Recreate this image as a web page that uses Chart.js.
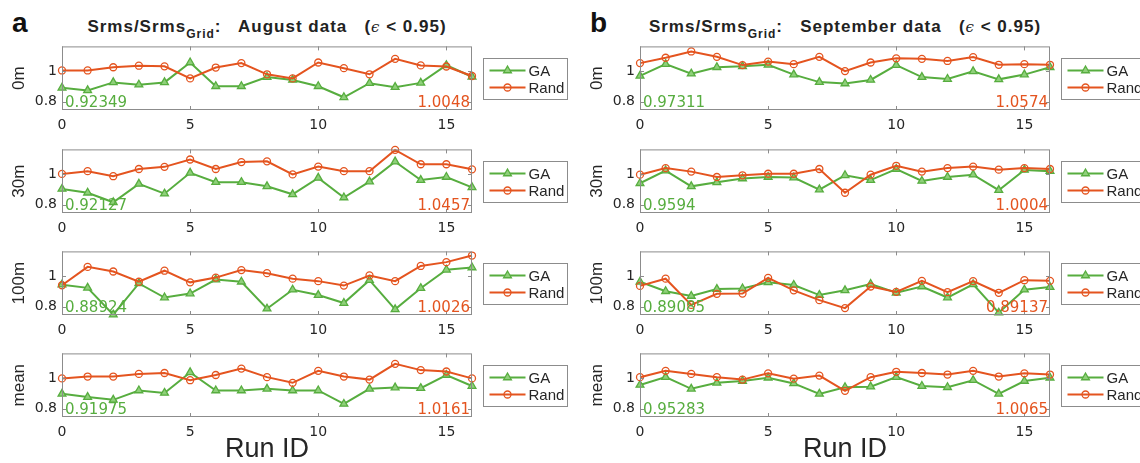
<!DOCTYPE html>
<html>
<head>
<meta charset="utf-8">
<script src="https://cdn.jsdelivr.net/npm/chart.js@4.4.1/dist/chart.umd.min.js"></script>
<style>
  html, body { margin: 0; padding: 0; background: #fff; overflow: hidden; width: 1140px; height: 463px; }
  #fig { position: relative; width: 1140px; height: 463px; overflow: hidden; }
  #fig canvas { position: absolute; }
  .letter { position: absolute; font: bold 28px "Liberation Sans", Arial, sans-serif; line-height: 28px; color: #111; }
  .title { position: absolute; width: 410px; text-align: center; white-space: nowrap;
           font: bold 17px "Liberation Sans", Arial, sans-serif; line-height: 16px; color: #222; letter-spacing: 1px; }
  .title .sub { font-size: 12px; vertical-align: -6px; }
  .title .eps { font: italic normal 15px "DejaVu Serif", serif; }
</style>
</head>
<body>
<div id="fig">
  <div class="letter" style="left:12px; top:9px;">a</div>
  <div class="letter" style="left:590px; top:9px;">b</div>
  <div class="title" style="left:62px; top:18px;">Srms/Srms<span class="sub">Grid</span>:&nbsp;&nbsp; August data &nbsp;&nbsp;(<span class="eps">ϵ</span> &lt; 0.95)</div>
  <div class="title" style="left:640px; top:18px;">Srms/Srms<span class="sub">Grid</span>:&nbsp;&nbsp; September data &nbsp;&nbsp;(<span class="eps">ϵ</span> &lt; 0.95)</div>
</div>
<script>
// --- Data ---
const runIds = [0, 1, 2, 3, 4, 5, 6, 7, 8, 9, 10, 11, 12, 13, 14, 15, 16];
const xTicks = [0, 5, 10, 15];
const yTicks = [0.8, 1];
const depthLabels = ['0m', '30m', '100m', 'mean'];

// August (panel a)
const augGA0m     = [0.890, 0.873, 0.925, 0.910, 0.925, 1.055, 0.900, 0.900, 0.960, 0.941, 0.900, 0.828, 0.920, 0.894, 0.922, 1.037, 0.962];
const augRand0m   = [1.003, 1.003, 1.024, 1.034, 1.030, 0.951, 1.022, 1.051, 0.978, 0.951, 1.055, 1.018, 0.978, 1.079, 1.036, 1.029, 0.967];
const augGA30m    = [0.902, 0.877, 0.815, 0.935, 0.871, 1.007, 0.946, 0.946, 0.919, 0.867, 0.974, 0.846, 0.950, 1.080, 0.960, 0.980, 0.912];
const augRand30m  = [1.000, 1.018, 0.985, 1.032, 1.046, 1.094, 1.032, 1.077, 1.082, 0.997, 1.048, 1.018, 1.018, 1.157, 1.063, 1.063, 1.030];
const augGA100m   = [0.943, 0.922, 0.747, 0.951, 0.859, 0.885, 0.976, 0.962, 0.786, 0.910, 0.875, 0.823, 0.972, 0.782, 0.920, 1.040, 1.055];
const augRand100m = [0.939, 1.059, 1.029, 0.962, 1.034, 0.958, 0.989, 1.038, 1.018, 0.982, 0.966, 0.937, 1.003, 0.966, 1.065, 1.090, 1.133];
const augGAMean   = [0.896, 0.875, 0.857, 0.918, 0.902, 1.036, 0.918, 0.918, 0.929, 0.918, 0.918, 0.830, 0.929, 0.937, 0.933, 1.019, 0.947];
const augRandMean = [0.997, 1.009, 1.009, 1.026, 1.032, 0.985, 1.019, 1.061, 1.005, 0.968, 1.046, 1.009, 0.989, 1.092, 1.051, 1.042, 0.997];

// September (panel b)
const sepGA0m     = [0.968, 1.044, 0.982, 1.024, 1.030, 1.040, 0.976, 0.927, 0.918, 0.941, 1.038, 0.960, 0.947, 0.997, 0.945, 0.976, 1.024];
const sepRand0m   = [1.051, 1.086, 1.127, 1.092, 1.038, 1.061, 1.044, 1.092, 0.999, 1.055, 1.082, 1.079, 1.065, 1.090, 1.040, 1.044, 1.040];
const sepGA30m    = [0.939, 1.022, 0.919, 0.945, 0.970, 0.980, 0.976, 0.898, 0.991, 0.960, 1.032, 0.954, 0.980, 0.995, 0.894, 1.026, 1.018];
const sepRand30m  = [0.995, 1.038, 1.015, 0.980, 0.991, 1.001, 1.001, 1.032, 0.877, 0.995, 1.053, 1.015, 1.038, 1.048, 1.028, 1.038, 1.032];
const sepGA100m   = [0.962, 0.900, 0.869, 0.914, 0.918, 0.958, 0.941, 0.875, 0.906, 0.947, 0.890, 0.931, 0.859, 0.945, 0.760, 0.910, 0.927];
const sepRand100m = [0.935, 0.982, 0.811, 0.883, 0.885, 0.987, 0.906, 0.842, 0.790, 0.931, 0.896, 0.968, 0.894, 0.966, 0.890, 0.972, 0.968];
const sepGAMean   = [0.954, 1.005, 0.929, 0.968, 0.980, 1.001, 0.964, 0.896, 0.939, 0.943, 1.005, 0.947, 0.939, 0.985, 0.896, 0.980, 1.001];
const sepRandMean = [1.005, 1.046, 1.026, 1.005, 0.989, 1.030, 0.995, 1.015, 0.916, 1.005, 1.040, 1.032, 1.022, 1.046, 1.009, 1.030, 1.022];

// averages printed inside each panel
const augGAText   = ['0.92349', '0.92127', '0.88924', '0.91975'];
const augRandText = ['1.0048', '1.0457', '1.0026', '1.0161'];
const sepGAText   = ['0.97311', '0.9594', '0.89085', '0.95283'];
const sepRandText = ['1.0574', '1.0004', '0.89137', '1.0065'];

// --- Look ---
const GREEN = '#57ad3f';
const GREEN_FILL = '#8fd07a';
const ORANGE = '#e4541f';
const TEXT = '#262626';
const FRAME = '#8c8c8c';
const Y_MIN = 0.745, Y_MAX = 1.16;

const rowTops = [43, 146, 248, 350];
const BOX_H = 67, BOX_W = 410, Y_AXIS_W = 62, PAD_TOP = 10, CANVAS_W = 580;
const colLefts = [0, 578];

function drawMarker(ctx, style, x, y) {
    ctx.beginPath();
    if (style === 'triangle') {
        const r = 4.5;
        ctx.moveTo(x, y - r);
        ctx.lineTo(x + r * 0.866, y + r * 0.5);
        ctx.lineTo(x - r * 0.866, y + r * 0.5);
        ctx.closePath();
        ctx.fillStyle = GREEN_FILL;
        ctx.fill();
        ctx.strokeStyle = GREEN;
    } else {
        ctx.arc(x, y, 3.5, 0, Math.PI * 2);
        ctx.strokeStyle = ORANGE;
    }
    ctx.lineWidth = 1.3;
    ctx.stroke();
}

// MATLAB-style box, inward ticks, the two printed averages and the legend
const axesFrame = {
    id: 'axesFrame',
    afterDraw(chart, args, opts) {
        const { ctx, chartArea: a, scales: { x, y } } = chart;
        ctx.save();
        ctx.strokeStyle = FRAME;
        ctx.lineWidth = 1;
        ctx.strokeRect(a.left + 0.5, a.top + 0.5, a.width - 1, a.height - 1);

        ctx.beginPath();
        xTicks.forEach(v => {
            const px = Math.round(x.getPixelForValue(v)) + 0.5;
            ctx.moveTo(px, a.top); ctx.lineTo(px, a.top + 4);
            ctx.moveTo(px, a.bottom); ctx.lineTo(px, a.bottom - 4);
        });
        yTicks.forEach(v => {
            const py = Math.round(y.getPixelForValue(v)) + 0.5;
            ctx.moveTo(a.left, py); ctx.lineTo(a.left + 4, py);
            ctx.moveTo(a.right, py); ctx.lineTo(a.right - 4, py);
        });
        ctx.stroke();

        // averages
        ctx.font = '15px "DejaVu Sans"';
        ctx.textBaseline = 'alphabetic';
        ctx.textAlign = 'left';
        ctx.fillStyle = GREEN;
        ctx.fillText(opts.gaText, a.left + 3, a.bottom - 3);
        ctx.textAlign = 'right';
        ctx.fillStyle = ORANGE;
        ctx.fillText(opts.randText, a.right - 2, a.bottom - 3);

        // legend
        const bx = a.right + 11.5, cy = (a.top + a.bottom) / 2;
        const by = Math.round(cy - 20.5) + 0.5;
        ctx.fillStyle = '#fff';
        ctx.fillRect(bx, by, 84, 41);
        ctx.strokeStyle = FRAME;
        ctx.lineWidth = 1;
        ctx.strokeRect(bx, by, 84, 41);
        const entries = [
            { label: 'GA', color: GREEN, style: 'triangle', y: by + 12 },
            { label: 'Rand', color: ORANGE, style: 'circle', y: by + 29 }
        ];
        ctx.font = '15px "Liberation Sans", Arial';
        ctx.textAlign = 'left';
        ctx.textBaseline = 'middle';
        entries.forEach(e => {
            ctx.strokeStyle = e.color;
            ctx.lineWidth = 2;
            ctx.beginPath();
            ctx.moveTo(bx + 6, e.y); ctx.lineTo(bx + 42, e.y);
            ctx.stroke();
            drawMarker(ctx, e.style, bx + 24, e.y);
            ctx.fillStyle = TEXT;
            ctx.fillText(e.label, bx + 45, e.y + 1);
        });
        ctx.restore();
    }
};

function toPoints(values) {
    return values.map((v, i) => ({ x: runIds[i], y: v }));
}

function makePanel(col, row, gaValues, randValues, gaText, randText) {
    const isBottom = row === rowTops.length - 1;
    const xAxisH = isBottom ? 56 : 30;
    const canvas = document.createElement('canvas');
    canvas.width = CANVAS_W;
    canvas.height = PAD_TOP + BOX_H + xAxisH;
    canvas.style.left = colLefts[col] + 'px';
    canvas.style.top = (rowTops[row] - PAD_TOP) + 'px';
    document.getElementById('fig').appendChild(canvas);

    new Chart(canvas.getContext('2d'), {
        type: 'line',
        data: {
            datasets: [{
                label: 'Rand',
                data: toPoints(randValues),
                borderColor: ORANGE,
                borderWidth: 2,
                pointStyle: 'circle',
                pointRadius: 3.5,
                pointBorderWidth: 1.3,
                pointBackgroundColor: 'rgba(255,255,255,0)',
                pointBorderColor: ORANGE,
                clip: false,
                order: 1
            }, {
                label: 'GA',
                data: toPoints(gaValues),
                borderColor: GREEN,
                borderWidth: 2,
                pointStyle: 'triangle',
                pointRadius: 4.5,
                pointBorderWidth: 1.3,
                pointBackgroundColor: GREEN_FILL,
                pointBorderColor: GREEN,
                clip: false,
                order: 2
            }]
        },
        options: {
            responsive: false,
            animation: false,
            devicePixelRatio: 1,
            layout: { padding: { top: PAD_TOP, left: 0, right: CANVAS_W - Y_AXIS_W - BOX_W, bottom: 0 } },
            plugins: {
                legend: { display: false },
                tooltip: { enabled: false },
                axesFrame: { gaText: gaText, randText: randText }
            },
            scales: {
                x: {
                    type: 'linear',
                    min: 0,
                    max: 16,
                    grid: { display: false, drawTicks: false },
                    border: { display: false },
                    ticks: { color: TEXT, padding: 7, font: { family: 'DejaVu Sans', size: 14 } },
                    title: {
                        display: isBottom,
                        text: 'Run ID',
                        color: TEXT,
                        font: { family: 'Liberation Sans', size: 27 },
                        padding: { top: 0, bottom: 7 }
                    },
                    afterBuildTicks: s => { s.ticks = xTicks.map(v => ({ value: v })); },
                    afterFit: s => { s.height = xAxisH; }
                },
                y: {
                    min: Y_MIN,
                    max: Y_MAX,
                    grid: { display: false, drawTicks: false },
                    border: { display: false },
                    ticks: {
                        color: TEXT,
                        padding: 5,
                        font: { family: 'DejaVu Sans', size: 14 },
                        callback: v => String(v)
                    },
                    title: {
                        display: true,
                        text: depthLabels[row],
                        color: TEXT,
                        font: { family: 'Liberation Sans', size: 17 },
                        padding: { top: 9, bottom: 0 }
                    },
                    afterBuildTicks: s => { s.ticks = yTicks.map(v => ({ value: v })); },
                    afterFit: s => { s.width = Y_AXIS_W; }
                }
            }
        },
        plugins: [axesFrame]
    });
}

const augSeries = [[augGA0m, augRand0m], [augGA30m, augRand30m], [augGA100m, augRand100m], [augGAMean, augRandMean]];
const sepSeries = [[sepGA0m, sepRand0m], [sepGA30m, sepRand30m], [sepGA100m, sepRand100m], [sepGAMean, sepRandMean]];

augSeries.forEach((s, row) => makePanel(0, row, s[0], s[1], augGAText[row], augRandText[row]));
sepSeries.forEach((s, row) => makePanel(1, row, s[0], s[1], sepGAText[row], sepRandText[row]));
</script>
</body>
</html>
